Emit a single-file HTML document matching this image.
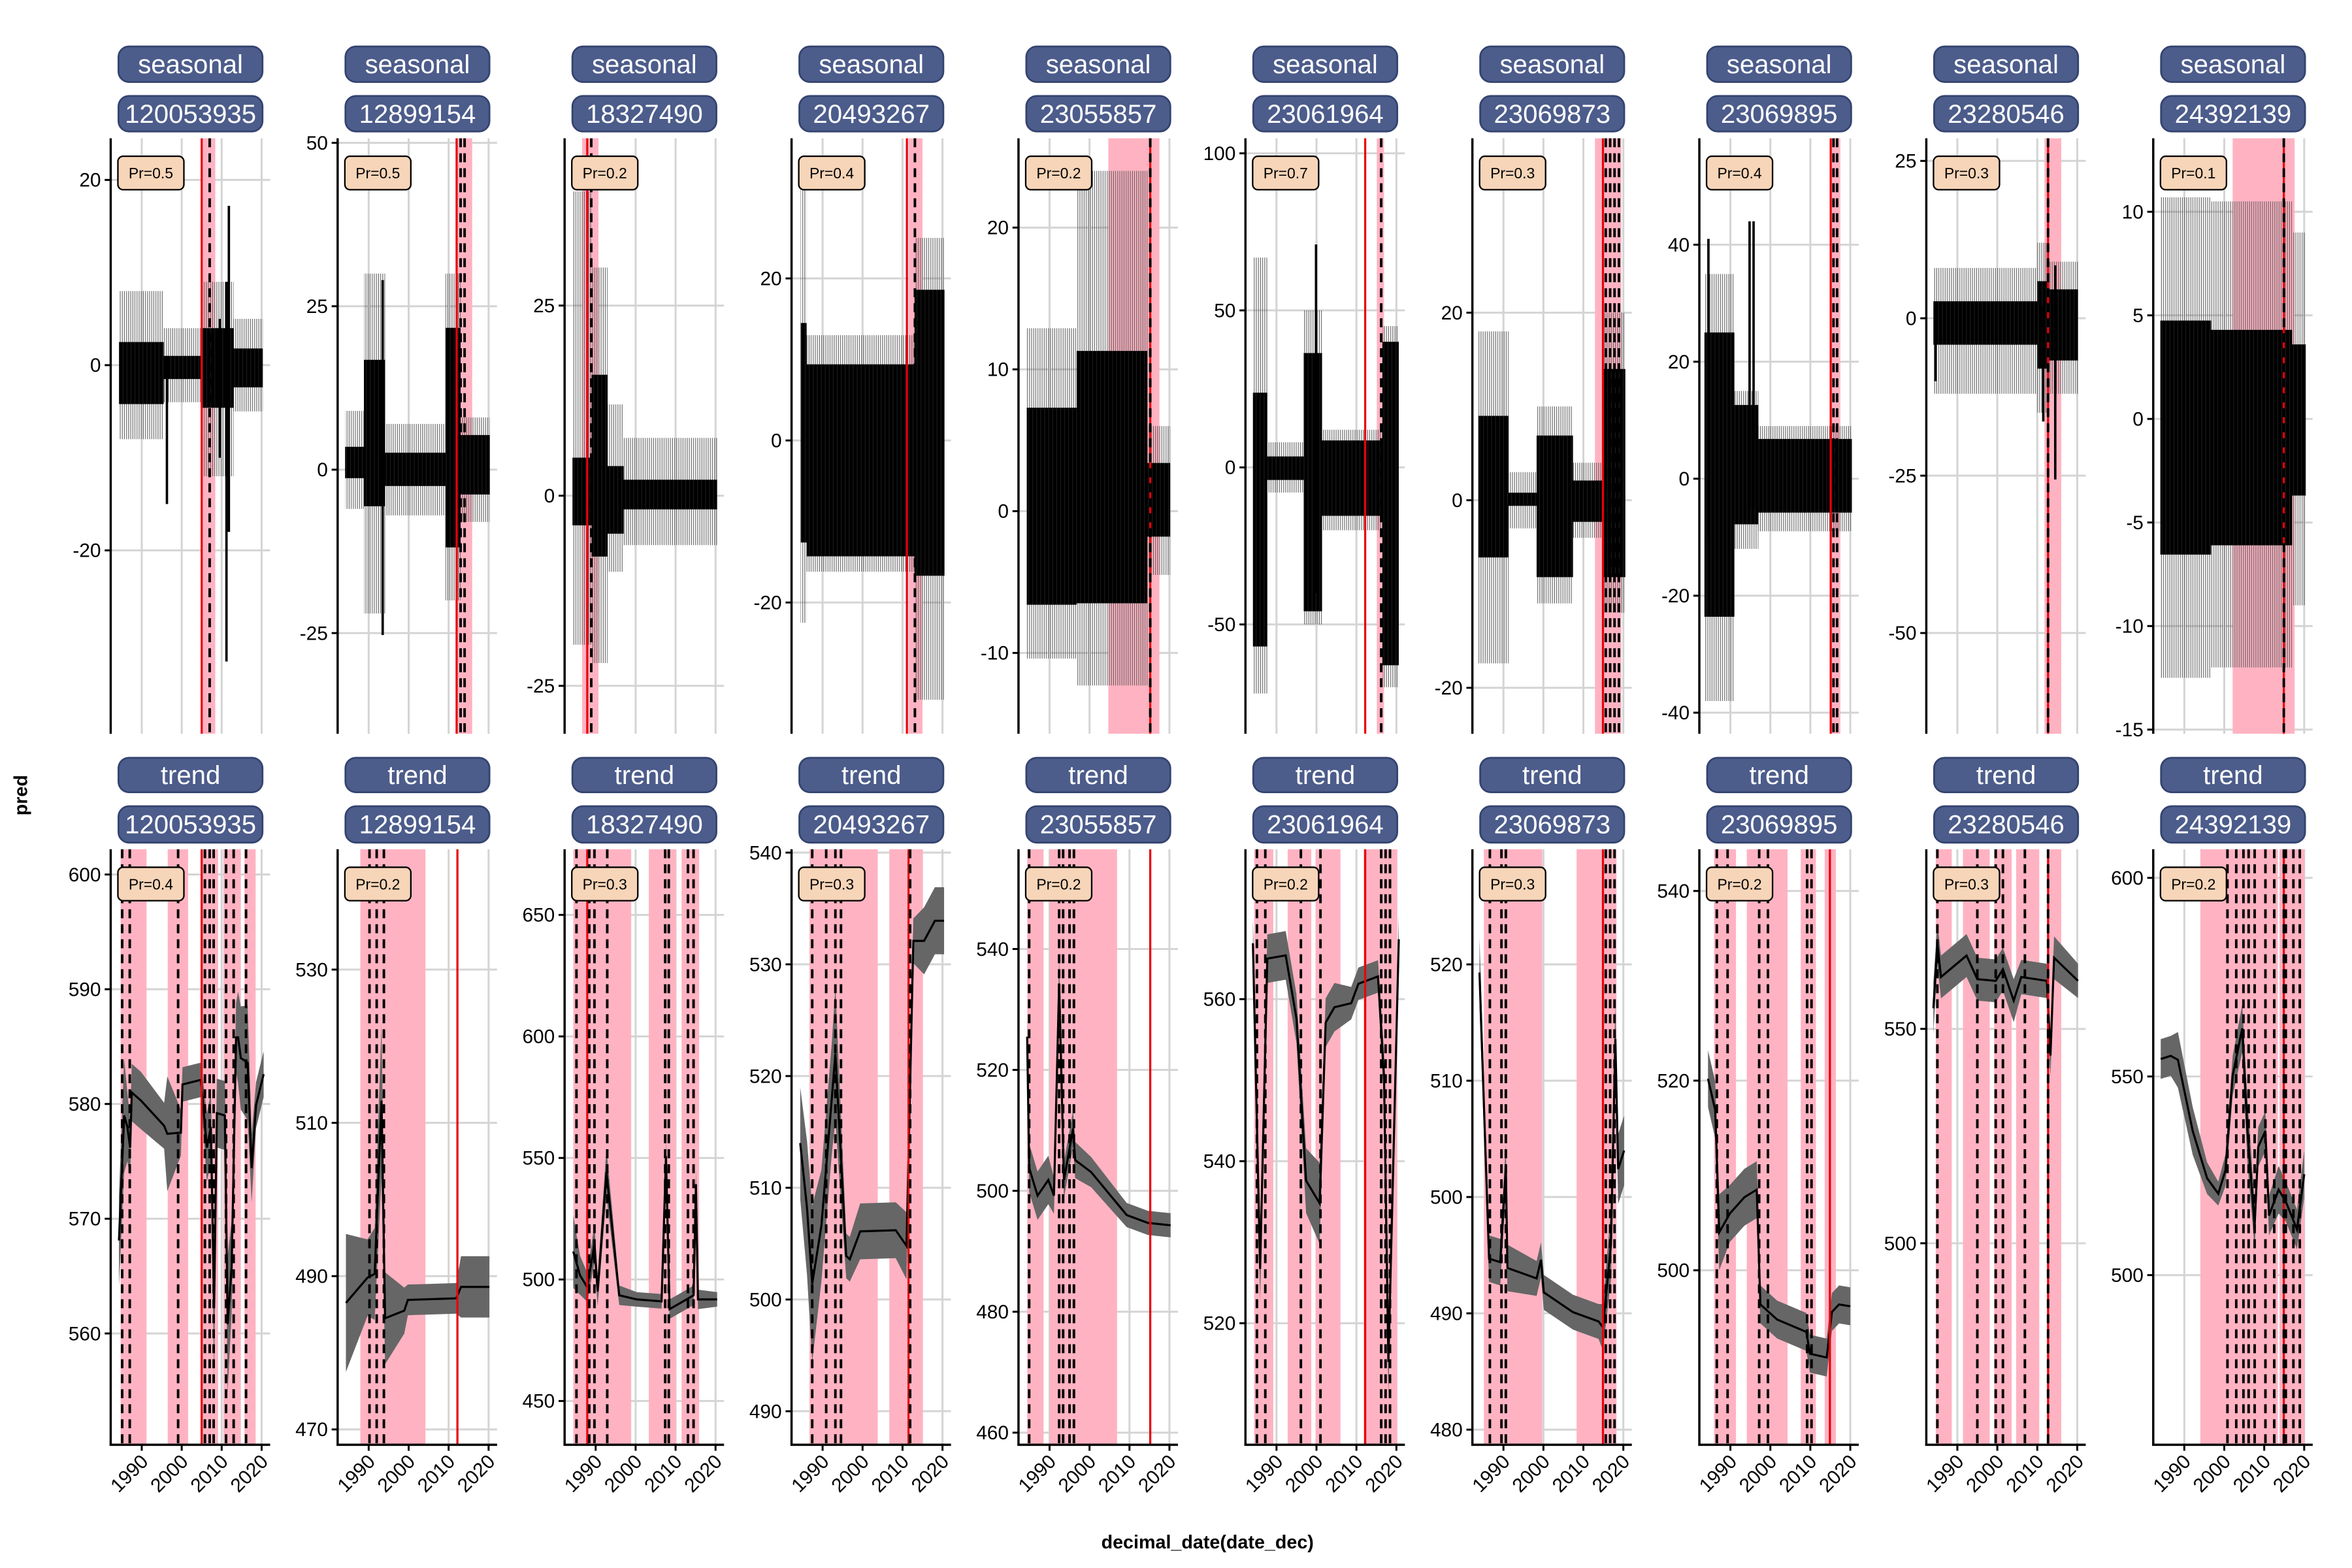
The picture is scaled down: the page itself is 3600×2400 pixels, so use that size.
<!DOCTYPE html>
<html><head><meta charset="utf-8"><title>Seasonal / trend facets</title>
<style>html,body{margin:0;padding:0;background:#fff}svg{display:block}text{font-family:"Liberation Sans",Arial,sans-serif}</style>
</head><body>
<svg id="chart" xmlns="http://www.w3.org/2000/svg" width="3600" height="2400" viewBox="0 0 1568 1045">
<defs>
<pattern id="thinlines" patternUnits="userSpaceOnUse" width="1.4" height="10">
<rect x="0" y="0" width="1.4" height="10" fill="#ffffff" fill-opacity="0"/>
<line x1="0.35" y1="0" x2="0.35" y2="10" stroke="#555" stroke-width="0.45"/>
</pattern>
<pattern id="darktex" patternUnits="userSpaceOnUse" width="2.66" height="10">
<rect x="0" y="0" width="2.66" height="10" fill="#000"/>
<line x1="2.2" y1="0" x2="2.2" y2="10" stroke="#222" stroke-width="0.4"/>
</pattern>
</defs>
<rect x="0" y="0" width="1568" height="1045" fill="#fff"/>
<text x="805" y="1032" text-anchor="middle" font-size="12.5" font-weight="bold">decimal_date(date_dec)</text>
<text transform="translate(18,530) rotate(-90)" text-anchor="middle" font-size="12.5" font-weight="bold">pred</text>
</svg>
<script>
// ---------- data ----------
const ids = ["120053935","12899154","18327490","20493267","23055857","23061964","23069873","23069895","23280546","24392139"];
const xTicks = [1990,2000,2010,2020];
const sPr = [0.5,0.5,0.2,0.4,0.2,0.7,0.3,0.4,0.3,0.1];
const tPr = [0.4,0.2,0.3,0.3,0.2,0.2,0.3,0.2,0.3,0.2];
const sLim = [[-39.8,24.5],[-40.4,50.7],[-31.3,47],[-36.2,37.3],[-15.7,26.3],[-84.8,104.8],[-24.9,38.6],[-43.6,58.2],[-66,28.6],[-15.2,13.55]];
const sTicks = [[-20,0,20],[-25,0,25,50],[-25,0,25],[-20,0,20],[-10,0,10,20],[-50,0,50,100],[-20,0,20],[-40,-20,0,20,40],[-50,-25,0,25],[-15,-10,-5,0,5,10]];
const tLim = [[550.3,602.2],[468,545.7],[432,677],[487,540.3],[458,556.5],[505,578.5],[478.7,529.9],[481.6,544.4],[453,591.9],[457.3,607.2]];
const tTicks = [[560,570,580,590,600],[470,490,510,530],[450,500,550,600,650],[490,500,510,520,530,540],[460,480,500,520,540],[520,540,560],[480,490,500,510,520],[500,520,540],[500,550],[500,550,600]];

// seasonal envelopes (segment boundaries, dark hi/lo, grey hi/lo)
const sBounds = [[1984.3,1995.5,2005,2013,2020.3],[1984.1,1988.8,1994.1,2009.2,2013,2020.3],[1984.2,1989,1993,1997,2020.4],[1984.5,1986,2013,2020.5],[1984.3,1996.8,2014.5,2020.2],[1984.1,1987.7,1996.8,2001.4,2016.5,2020.6],[1983.7,1991.3,1998.3,2007.4,2014.7,2020.5],[1983.5,1991,1997,2020.4],[1984,2010,2013,2020.2],[1984,1996.7,2017,2020.4]];
const sHi = [[2.5,1,4,1.8],[3.5,16.8,2.6,21.7,5.3],[5,15.9,3.9,2.1],[14.5,9.4,18.6],[7.3,11.3,3.4],[23.8,3.5,36.4,8.6,40],[9,0.8,6.9,2.1,14],[25,12.6,6.8],[2.7,5.9,4.6],[4.75,4.3,3.6]];
const sLo = [[-4.2,-1.5,-4.6,-2.4],[-1.3,-5.6,-2.5,-11.9,-3.8],[-3.9,-8,-5,-1.8],[-12.6,-14.3,-16.7],[-6.6,-6.5,-1.8],[-57,-4,-45.8,-15.4,-63],[-6.1,-0.6,-8.2,-2.3,-8.2],[-23.6,-7.8,-5.8],[-4.2,-8,-6.7],[-6.55,-6.1,-3.7]];
const sGHi = [[8,4,9,5],[9,30,7,30,8],[40,30,12,7.6],[33,13,25],[12.9,24,6],[66.8,8,50,12,45],[18,3,10,4,20],[35,15,9],[8,12,9],[10.7,10.5,9]];
const sGLo = [[-8,-4,-12,-5],[-6,-22,-7,-20,-8],[-19.6,-22,-10,-6.5],[-22.5,-16.2,-32],[-10.4,-12.3,-4.5],[-72,-8,-50,-20,-70],[-17.4,-3,-11,-4,-12],[-38,-12,-9],[-12,-15,-12],[-12.5,-12,-9]];
const sSpikeYr = [[1996.3,2011.8,2011.2,2009.5],[1993.5],[],[],[],[1999.9],[],[1984.5,1994.8,1995.8],[1984.5,2011.5,2014.5],[]];
const sSpikeHi = [[1,17.2,9,5],[29],[],[],[],[71],[],[41,44,44],[2,2,8.4],[]];
const sSpikeLo = [[-15,-18,-32,-10],[-25.3],[],[],[],[-40],[],[-10,-5,-5],[-10,-16.4,-25.6],[]];
const sPink = [[[2005,2008.4]],[[2011.8,2015.9]],[[1986.6,1990.7]],[[2011.5,2015]],[[2004.7,2017.5]],[[2015.1,2016.9]],[[2012.9,2019.5]],[[2015,2017.5]],[[2011.8,2016]],[[2002.1,2017.6]]];
const sRed = [2005,2012,1987.9,2011.1,2015.2,2012.2,2014.9,2015.1,2012.7,2014.9];
const sDash = [[2007],[2013,2014],[1988.9],[2013.1],[2015.2],[2016.2],[2015.6,2016.7,2017.8,2018.9],[2015.8,2016.7],[2012.7],[2014.9]];

// trend series
const tYears = [
 [1984.3,1985.6,1986.4,1987.1,1987.5,1989.8,1995.6,1996.4,1999.8,2000.2,2004.8,2006.3,2007.3,2008.1,2008.8,2010.8,2011.5,2012.5,2013.6,2014.1,2014.8,2016.5,2017.5,2018.6,2020.5],
 [1984.3,1989.7,1991.5,1993.2,1994.1,1998.9,1999.8,2011.9,2013.1,2020.2],
 [1984.4,1986.1,1987.9,1989.7,1990.5,1992.7,1995.9,2000.3,2006.5,2007.6,2008.5,2011.9,2014.5,2015.1,2015.6,2020.4],
 [1984.4,1986.1,1987.4,1989.7,1992.3,1993.2,1995.9,1996.8,1999.4,2008.3,2011,2012.7,2015.4,2018.1,2020.4],
 [1984.4,1984.9,1987,1989.7,1991.1,1992.4,1993.6,1995.9,1996.4,2000.4,2009.3,2014.6,2020.3],
 [1984.1,1985.9,1987.7,1992.3,1995,1997.4,2000.8,2002.3,2004.5,2008.7,2010.5,2015.4,2016.9,2018,2020.6],
 [1984,1986.4,1989.2,1990.6,1991,1998.3,1999.4,2000.1,2007.4,2013.8,2014.9,2016.9,2018,2018.7,2020.2],
 [1984.4,1986.2,1987.2,1989.9,1993.5,1996.6,1997.5,2001.7,2009,2009.9,2014.1,2015.4,2017.2,2020],
 [1984,1985,1985.9,1992.3,1995,1999.6,2001.4,2004.1,2006,2012.4,2013.3,2014.2,2020.2],
 [1984.1,1986.6,1988.4,1992.1,1995.7,1998.5,2000.3,2002.1,2004.5,2005.8,2007.6,2008.5,2010.3,2011.2,2013.6,2015.4,2018.2,2020]];
const tVals = [
 [568.1,579,578,576.2,581,580.3,578.1,577.4,577.5,581.7,582.1,576.2,578,562.2,579.2,579,560.8,565.8,585.8,585.8,584,583.6,574.4,579.9,582.6],
 [486.5,489.8,490.3,512.9,484.5,485.5,486.9,487.1,488.6,488.6],
 [511.5,501.7,496.8,514.7,495.1,544.1,493.5,491.8,491,550.7,487.8,491,493.5,539.2,491.8,491.8],
 [514,508.2,501.4,506.6,518,522,503.9,503.6,506.1,506.2,504.8,532.1,532.1,533.9,533.9],
 [525.5,503.8,499.2,501.8,499.2,534.3,501.8,510.3,505.1,503.1,496,494.7,494.3],
 [566.9,526.7,565,565.4,557.6,537.6,534.8,557.1,559,559.5,561.9,562.8,550.5,515.2,567.4],
 [519.3,494.7,494.4,502.5,493.9,493,494.6,491.8,490.1,489.3,488.8,495.9,513.6,502.4,504],
 [520.2,516.9,504,506,507.7,508.5,496.4,494.8,493.5,491.2,490.8,495.6,496.4,496.2],
 [554.8,569.9,562.1,567.1,561.6,561.2,563.9,556.6,562.1,561.2,543.8,566.6,561.2],
 [554.4,555.2,554.2,536.3,524.4,520.5,526.4,550.2,562.1,536.3,512.5,532.3,536.3,515,521.5,518.5,511.5,525.4]];
const tSe = [
 [4,5,3,2.5,2.5,2.5,2,5,2,1.5,1.5,3,3,6,3,3,6,4,3,4,4.5,5,3,2,2],
 [9,5,6,10,6,3,2,2,4,4],
 [15,8,6,8,6,10,4,3,3,6,4,4,4,6,4,3],
 [5,6,7,5,5,6,2,2,2.5,2.5,3,2,3,3,3],
 [3,4,4,4,3,4,3,3,3,2.5,2,2,2],
 [3,4,3,3,3,4,5,3,3,2,2,2,3,4,3],
 [3,2,2,2,2,1.5,1.5,1.5,1.5,1.5,2,3,3,3,3],
 [3,3,4,3,3,3,2,2,2,2,2,2,2,2],
 [6,5,5,5,5,5,5,5,4,4,5,5,4],
 [5,5,7,6,4,3,4,5,6,8,6,5,5,5,6,5,5,6]];
const tPink = [
 [[1984.7,1991.2],[1996.5,2001.6],[2004.7,2009.1],[2010.4,2014.8],[2015.7,2018.5]],
 [[1987.9,2004.2]],
 [[1984.4,1998.9],[2003.3,2010.1],[2011.5,2015.9]],
 [[1986.7,2003.8],[2006.7,2015.1]],
 [[1984.4,1988.5],[1990,2006.9]],
 [[1984.4,1989.2],[1992.8,1998.7],[1999.8,2006],[2011.8,2020.2]],
 [[1985.1,1999.7],[2008.3,2018.3]],
 [[1985.9,1991.4],[1994.1,2004.3],[2007.6,2011.4],[2013.6,2016.4]],
 [[1984.6,1988.6],[1991.4,1998.1],[1999.2,2003.6],[2004.7,2010.5],[2012.7,2016]],
 [[1994,2013.4],[2013.8,2020.1]]];
const tRed = [2005.0,2012.2,1987.9,2011.5,2015.2,2012.2,2014.9,2014.9,2012.7,2014.9];
const tDash = [
 [1985.1,1987,1999.1,2005.8,2007,2008,2011.1,2013,2016.1],
 [1990.2,1992,1993.8],
 [1985.2,1988.4,1989.7,1992.9,2007.4,2008.3,2013.1,2014.5],
 [1987.4,1990.9,1993.2,1994.6,2011.9],
 [1984.9,1992.4,1993.4,1995,1996.1],
 [1985.1,1987.2,1996.1,2001,2016.2,2017.3,2018.4],
 [1986.6,1989.5,1990.6,2015.6,2016.7,2017.8],
 [1986.6,1989.3,1997.2,1999.4,2009.2,2010.3],
 [1985,1995,1999.6,2001.4,2006.9,2012.7],
 [2000.8,2003,2004.8,2006.1,2007.6,2010.3,2012.5,2014.9,2015.4,2017.3,2018.9]];

// ---------- layout ----------
const NS = "http://www.w3.org/2000/svg";
const svg = document.getElementById('chart');
const PW = 106.3, XMIN = 1982.23, XMAX = 2022.13;
const ROWS = [{top:92,bot:489,s1:[30.8,54.5],s2:[63.8,87.5],label:"seasonal"},{top:566,bot:963,s1:[505,528],s2:[537.3,561.6],label:"trend"}];
function panelL(i){return 73.8 + 151.3*i;}
function xs(i,yr){return panelL(i) + (yr-XMIN)/(XMAX-XMIN)*PW;}
function ys(r,i,v){const lim = r===0 ? sLim[i] : tLim[i]; const R = ROWS[r]; return R.bot - (v-lim[0])/(lim[1]-lim[0])*(R.bot-R.top);}
function mk(tag, attrs, parent){const e=document.createElementNS(NS,tag); for(const k in attrs) e.setAttribute(k, attrs[k]); (parent||svg).appendChild(e); return e;}

const defs = svg.querySelector('defs');
for(let r=0;r<2;r++){
 const R = ROWS[r];
 for(let i=0;i<10;i++){
  const L = panelL(i);
  const cp = mk('clipPath',{id:`clip-${r}-${i}`},defs);
  mk('rect',{x:L,y:R.top,width:PW,height:R.bot-R.top},cp);
  const g = mk('g',{});
  
  
  const cg = mk('g',{'clip-path':`url(#clip-${r}-${i})`},g);
  const yt = r===0 ? sTicks[i] : tTicks[i];
  yt.forEach(v=>{
   const gl = mk('line',{x1:L,x2:L+PW,y1:ys(r,i,v),y2:ys(r,i,v),stroke:'#d4d4d4','stroke-width':1.3},cg);
   
   
  });
  xTicks.forEach(t=>{
   const gl = mk('line',{x1:xs(i,t),x2:xs(i,t),y1:R.top,y2:R.bot,stroke:'#d4d4d4','stroke-width':1.3},cg);
   
   
  });
  const pinks = r===0 ? sPink[i] : tPink[i];
  pinks.forEach(p=>{
   const pr = mk('rect',{x:xs(i,p[0]),y:R.top,width:xs(i,p[1])-xs(i,p[0]),height:R.bot-R.top,fill:'#ffb3c2'},cg);
   
   
  });
  if(r===0){
   const b = sBounds[i];
   function env(hiArr, loArr){
    const top=[], bot=[];
    for(let k=0;k<hiArr.length;k++){
     top.push([xs(i,b[k]),ys(0,i,hiArr[k])],[xs(i,b[k+1]),ys(0,i,hiArr[k])]);
     bot.push([xs(i,b[k]),ys(0,i,loArr[k])],[xs(i,b[k+1]),ys(0,i,loArr[k])]);
    }
    return top.concat(bot.reverse()).map(p=>p[0].toFixed(2)+','+p[1].toFixed(2)).join(' ');
   }
   const gb = mk('polygon',{points:env(sGHi[i],sGLo[i]),fill:'url(#thinlines)'},cg);
   
   
   const db = mk('polygon',{points:env(sHi[i],sLo[i]),fill:'url(#darktex)'},cg);
   
   
   sSpikeYr[i].forEach((yr,k)=>{
    const sp = mk('line',{x1:xs(i,yr),x2:xs(i,yr),y1:ys(0,i,sSpikeHi[i][k]),y2:ys(0,i,sSpikeLo[i][k]),stroke:'#000','stroke-width':1.6},cg);
    
    
   });
  } else {
   const yrs=tYears[i], vals=tVals[i], se=tSe[i];
   const up = yrs.map((y,k)=>[xs(i,y),ys(1,i,vals[k]+se[k])]);
   const dn = yrs.map((y,k)=>[xs(i,y),ys(1,i,vals[k]-se[k])]).reverse();
   const band = mk('polygon',{points:up.concat(dn).map(p=>p[0].toFixed(2)+','+p[1].toFixed(2)).join(' '),fill:'#666'},cg);
   
   
   const ln = mk('polyline',{points:yrs.map((y,k)=>xs(i,y).toFixed(2)+','+ys(1,i,vals[k]).toFixed(2)).join(' '),fill:'none',stroke:'#000','stroke-width':1.4},cg);
   
   
  }
  const redYr = r===0 ? sRed[i] : tRed[i];
  const rl = mk('line',{x1:xs(i,redYr),x2:xs(i,redYr),y1:R.top,y2:R.bot,stroke:'#e8000b','stroke-width':1.4},cg);
  
  
  (r===0 ? sDash[i] : tDash[i]).forEach(d=>{
   const dl = mk('line',{x1:xs(i,d),x2:xs(i,d),y1:R.top,y2:R.bot,stroke:'#000','stroke-width':1.7,'stroke-dasharray':'6,4'},cg);
   
   
  });
  const ya = mk('line',{x1:L,x2:L,y1:R.top,y2:R.bot+(r===1?0.7:0),stroke:'#000','stroke-width':1.5},g);
  
  
  yt.forEach(v=>{
   const y = ys(r,i,v);
   const tk = mk('line',{x1:L-4,x2:L,y1:y,y2:y,stroke:'#000','stroke-width':1.3},g);
   
   
   const tl = mk('text',{x:L-6.5,y:y+4.5,'text-anchor':'end','font-size':13,fill:'#000'},g);
   tl.textContent = String(v);
   
   
  });
  if(r===1){
   const xa = mk('line',{x1:L-0.7,x2:L+PW,y1:R.bot,y2:R.bot,stroke:'#000','stroke-width':1.5},g);
   
   
   xTicks.forEach(t=>{
    const x = xs(i,t);
    const tk = mk('line',{x1:x,x2:x,y1:R.bot,y2:R.bot+4,stroke:'#000','stroke-width':1.3},g);
    
    
    const tl = mk('text',{'text-anchor':'end','font-size':13,fill:'#000',transform:`translate(${(x+5).toFixed(2)},${R.bot+12}) rotate(-45)`},g);
    tl.textContent = String(t);
    
    
   });
  }
  const prv = r===0 ? sPr[i] : tPr[i];
  const pb = mk('rect',{x:L+4.8,y:R.top+12,width:44,height:22.3,rx:3.5,fill:'#f7d5b8',stroke:'#000','stroke-width':1},g);
  
  
  const pt = mk('text',{x:L+26.8,y:R.top+26.8,'text-anchor':'middle','font-size':10,fill:'#000'},g);
  pt.textContent = 'Pr=' + prv;
  
  
  [[R.s1,R.label,'component-strip'],[R.s2,ids[i],'id-strip']].forEach(s=>{
   const sr = mk('rect',{x:L+5.2,y:s[0][0],width:96,height:s[0][1]-s[0][0],rx:7,fill:'#4c5c8b',stroke:'#34436f','stroke-width':1.2},g);
   
   
   const st = mk('text',{x:L+53.2,y:(s[0][0]+s[0][1])/2+6,'text-anchor':'middle','font-size':17.5,fill:'#fff'},g);
   st.textContent = s[1];
   
   
  });
 }
}
</script>
</body></html>
